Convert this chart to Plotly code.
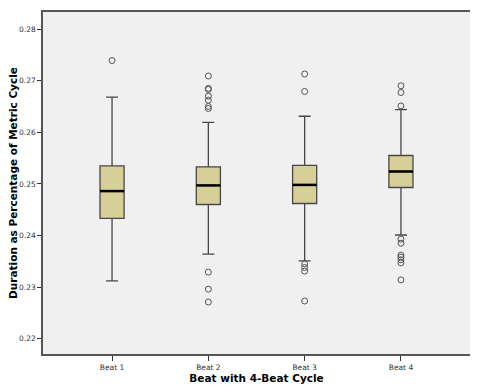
import plotly.graph_objects as go

categories = ["Beat 1", "Beat 2", "Beat 3", "Beat 4"]
q1 = [0.2433, 0.2460, 0.2462, 0.2493]
median = [0.2486, 0.2497, 0.2498, 0.2524]
q3 = [0.2535, 0.2533, 0.2536, 0.2555]
lower_whisker = [0.2312, 0.2364, 0.2351, 0.2401]
upper_whisker = [0.2668, 0.2619, 0.2631, 0.2644]
outliers = [
    [0.2739],
    [0.2709, 0.2685, 0.2683, 0.2670, 0.2662, 0.2650, 0.2646, 0.2329, 0.2296, 0.2271],
    [0.2713, 0.2679, 0.2345, 0.2338, 0.2331, 0.2273],
    [0.2690, 0.2677, 0.2651, 0.2393, 0.2385, 0.2362, 0.2358, 0.2353, 0.2347, 0.2314],
]
y_ticks = [0.22, 0.23, 0.24, 0.25, 0.26, 0.27, 0.28]

BOX_W = 0.25
fig = go.Figure()
fig.add_trace(go.Box(
    x=categories, q1=q1, median=median, q3=q3,
    lowerfence=lower_whisker, upperfence=upper_whisker,
    width=BOX_W, whiskerwidth=0.5,
    fillcolor="#D6CF98", line=dict(color="#474747", width=1.3),
    boxpoints=False, showlegend=False, hoverinfo="skip",
))
for cat, pts in zip(categories, outliers):
    fig.add_trace(go.Scatter(
        x=[cat] * len(pts), y=pts, mode="markers",
        marker=dict(symbol="circle-open", size=6, color="#555555", line=dict(width=1)),
        showlegend=False, hoverinfo="skip",
    ))
for i, m in enumerate(median):
    fig.add_shape(type="line", xref="x", yref="y",
                  x0=i - BOX_W / 2, x1=i + BOX_W / 2, y0=m, y1=m,
                  line=dict(color="black", width=2.5))

tick_font = dict(family="DejaVu Sans", size=7.5, color="#333333")
title_font = dict(family="DejaVu Sans", size=10.5, color="black")
fig.update_layout(
    width=470, height=380,
    margin=dict(l=35, r=8, t=4, b=34),
    paper_bgcolor="white", plot_bgcolor="#F0F0F0",
    xaxis=dict(
        type="category", categoryorder="array", categoryarray=categories,
        range=[-0.717, 3.717], showgrid=False, zeroline=False,
        showline=True, linecolor="#555555", linewidth=1.5, mirror=True,
        ticks="outside", ticklen=5, tickcolor="#333333", tickfont=tick_font,
        title=dict(text="<b>Beat with 4-Beat Cycle</b>", font=title_font, standoff=3),
        automargin=False,
    ),
    yaxis=dict(
        range=[0.21704, 0.2833], tickvals=y_ticks,
        ticktext=[f"{v:.2f}" for v in y_ticks],
        showgrid=False, zeroline=False,
        showline=True, linecolor="#555555", linewidth=1.5, mirror=True,
        ticks="outside", ticklen=4, tickcolor="#333333", tickfont=tick_font,
        automargin=False,
    ),
    annotations=[dict(
        text="<b>Duration as Percentage of Metric Cycle</b>", font=title_font,
        textangle=-90, xref="paper", yref="paper", x=-0.0705, y=0.5,
        xanchor="center", yanchor="middle", showarrow=False,
    )],
)
fig.write_html("out.html")
